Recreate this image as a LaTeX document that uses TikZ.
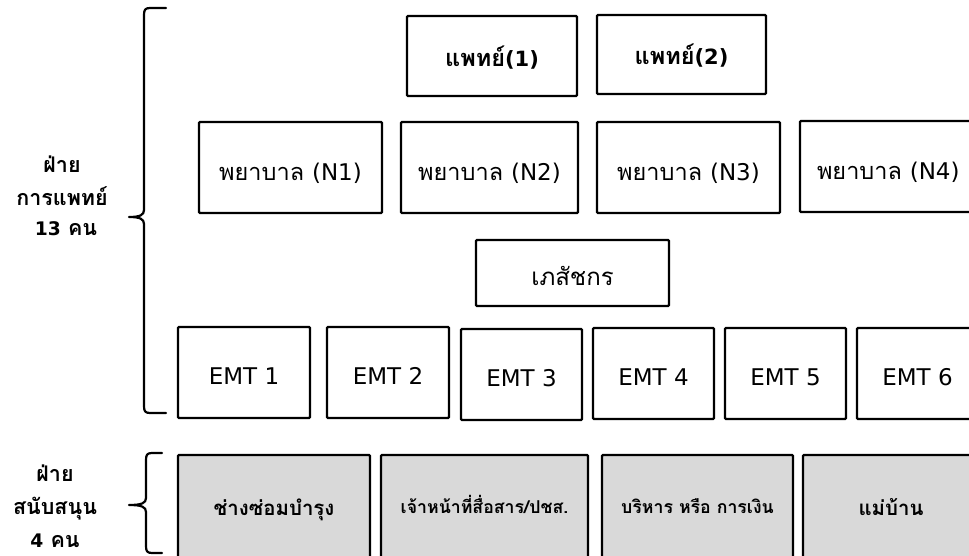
\documentclass[tikz,border=0pt]{standalone}
\usepackage{fontspec}
\newfontfamily\thai[Script=Thai]{Loma}
\newfontfamily\lat{DejaVu Sans}
\newcommand\latx[2]{{\lat\fontsize{#1}{#1}\selectfont #2}}
\begin{document}
\begin{tikzpicture}[x=1pt,y=-1pt,
  box/.style={draw, line width=2.3pt, rounded corners=1pt, inner sep=0pt, fill=white,
    text depth=0pt, font=\thai\fontsize{22.6}{26}\selectfont},
  docbox/.style={box, text height=20pt, font=\thai\bfseries\fontsize{23.5}{28}\selectfont},
  nursebox/.style={box, minimum height=91pt, text height=25pt,
    font=\thai\fontsize{23.5}{26}\selectfont},
  emtbox/.style={box, minimum width=121pt, minimum height=91pt, text height=24pt,
    font=\lat\fontsize{23}{26}\selectfont},
  graybox/.style={box, fill=gray!30, minimum height=106pt, text height=14pt,
    font=\thai\bfseries\fontsize{20.4}{24}\selectfont},
  smallgray/.style={graybox, text height=11pt, font=\thai\bfseries\fontsize{17.7}{21}\selectfont},
  grouplabel/.style={align=center, font=\thai\bfseries\fontsize{21.5}{33}\selectfont},
  bracepath/.style={line width=2.2pt, line cap=round, line join=round}]
\clip (0,0) rectangle (969,555);
% doctors
\node[docbox, minimum width=170pt, minimum height=80pt] (doc1) at (492,56) {แพทย์\latx{21}{\bfseries(1)}};
\node[docbox, minimum width=169pt, minimum height=79pt] (doc2) at (681.5,54.5) {แพทย์\latx{21}{\bfseries(2)}};
% nurses
\node[nursebox, minimum width=183pt] (n1) at (290.5,167.5) {พยาบาล \latx{23}{(N1)}};
\node[nursebox, minimum width=177pt] (n2) at (489.5,167.5) {พยาบาล \latx{23}{(N2)}};
\node[nursebox, minimum width=183pt] (n3) at (688.5,167.5) {พยาบาล \latx{23}{(N3)}};
\node[nursebox, minimum width=190pt, text width=156pt, align=left] (n4) at (895,166.5) {พยาบาล \latx{23}{(N4)}};
% pharmacist
\node[box, minimum width=193pt, minimum height=66pt, text height=24pt,
  font=\thai\fontsize{24}{28}\selectfont] (ph) at (572.5,273) {เภสัชกร};
% EMTs
\node[emtbox, minimum width=132pt] (e1) at (244,372.5) {EMT 1};
\node[emtbox, minimum width=122pt] (e2) at (388,372.5) {EMT 2};
\node[emtbox] (e3) at (521.5,374.5) {EMT 3};
\node[emtbox] (e4) at (653.5,373.5) {EMT 4};
\node[emtbox] (e5) at (785.5,373.5) {EMT 5};
\node[emtbox] (e6) at (917.5,373.5) {EMT 6};
% support
\node[graybox, minimum width=192pt] (g1) at (274,508) {ช่างซ่อมบำรุง};
\node[smallgray, minimum width=207pt] (g2) at (484.5,508) {เจ้าหน้าที่สื่อสาร/ปชส.};
\node[smallgray, minimum width=191pt] (g3) at (697.5,508) {บริหาร หรือ การเงิน};
\node[graybox, minimum width=176pt] (g4) at (891,508) {แม่บ้าน};
% group labels
\node[grouplabel] (lab1) at (62,196) {ฝ่าย\\การแพทย์\\[-3pt]\hspace*{8pt}\latx{18.7}{\bfseries 13} คน};
\node[grouplabel] (lab2) at (55,506) {ฝ่าย\\สนับสนุน\\\latx{18.7}{\bfseries 4} คน};
% braces
\draw[bracepath] (166,8) -- (150,8) .. controls (145,8) and (144,10) .. (144,15)
  -- (144,210) .. controls (144,215) and (140,217) .. (129,217)
  (129,217) .. controls (140,217) and (144,219) .. (144,224)
  -- (144,406) .. controls (144,411) and (145,413) .. (150,413) -- (166,413);
\draw[bracepath] (162,453) -- (152,453) .. controls (147,453) and (146,455) .. (146,460)
  -- (146,498) .. controls (146,503) and (142,505) .. (129,505)
  (129,505) .. controls (142,505) and (146,507) .. (146,512)
  -- (146,546) .. controls (146,551) and (147,553) .. (152,553) -- (162,553);
\end{tikzpicture}
\end{document}
